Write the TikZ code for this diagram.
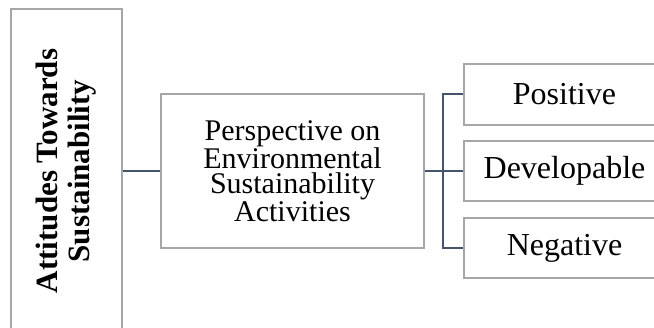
\documentclass[tikz,border=0pt]{standalone}
\usepackage{fontspec}
\setmainfont{Liberation Serif}
\usepackage{tikz}

\definecolor{boxgray}{HTML}{A6A6A6}
\definecolor{linkblue}{HTML}{44546A}

\tikzset{
  box/.style={draw=boxgray, line width=1.3pt, inner sep=0pt},
  link/.style={draw=linkblue, line width=2pt}
}

\begin{document}
\begin{tikzpicture}[x=1pt,y=1pt]
  \clip (0,0) rectangle (654,328);
  \node[box, rotate=90, minimum width=324pt, minimum height=111pt, align=center,
        font=\fontsize{31}{32}\selectfont\bfseries] (att) at (66.5,157)
        {Attitudes Towards\\Sustainability};
  \node[box, minimum width=263pt, minimum height=154pt, align=center,
        font=\fontsize{30}{25}\selectfont] (persp) at (292.5,157)
        {Perspective on\\Environmental\\Sustainability\\Activities};
  \node[box, minimum width=201pt, minimum height=61pt,
        font=\fontsize{32}{34}\selectfont] (pos) at (564.5,233.5) {Positive};
  \node[box, minimum width=201pt, minimum height=60pt,
        font=\fontsize{32}{34}\selectfont] (dev) at (564.5,157) {Developable};
  \node[box, minimum width=201pt, minimum height=60pt,
        font=\fontsize{32}{34}\selectfont] (neg) at (564.5,80) {Negative};
  \coordinate (fork) at (443,157);
  \draw[link] (att) -- (persp);
  \draw[link] (persp) -- (fork);
  \draw[link] (fork) |- (pos.west);
  \draw[link] (fork) -- (dev.west);
  \draw[link] (fork) |- (neg.west);
\end{tikzpicture}
\end{document}
